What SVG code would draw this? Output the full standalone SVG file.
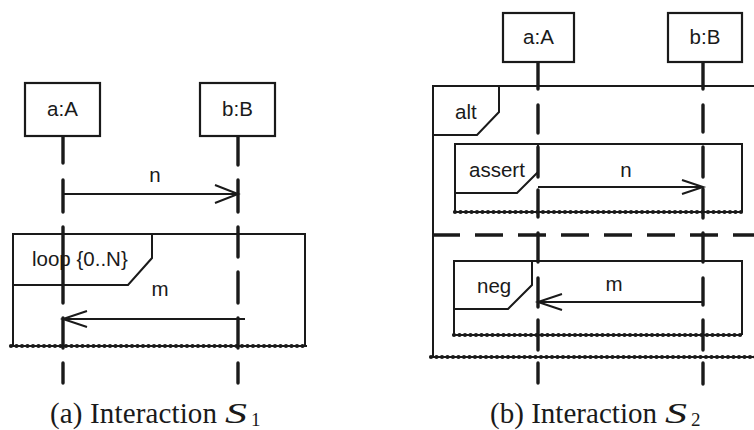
<svg xmlns="http://www.w3.org/2000/svg" width="754" height="430" viewBox="0 0 754 430">
<style>
.box{fill:#fff;stroke:#1a1a1a;stroke-width:2.2}
.frame{fill:none;stroke:#1a1a1a;stroke-width:2}
.life{stroke:#1a1a1a;stroke-width:3.4;stroke-linecap:round;fill:none}
.msg{stroke:#1a1a1a;stroke-width:1.8;fill:none}
.head{stroke:#1a1a1a;stroke-width:2;fill:none;stroke-linejoin:miter}
.dotA{stroke:#1a1a1a;stroke-width:2;fill:none}
.dotB{stroke:#1a1a1a;stroke-width:4.2;stroke-dasharray:0 5.5;stroke-linecap:round;fill:none}
.sep{stroke:#1a1a1a;stroke-width:3.4;stroke-dasharray:28 15;fill:none}
.lbl{font-family:"Liberation Sans",Arial,sans-serif;font-size:20.5px;fill:#1a1a1a}
.cap{font-family:"Liberation Serif","Times New Roman",serif;font-size:29px;fill:#1a1a1a}
.capS{font-family:"Liberation Serif","Times New Roman",serif;font-size:30px;font-style:italic;fill:#1a1a1a}
.capSub{font-family:"Liberation Serif","Times New Roman",serif;font-size:19px;fill:#1a1a1a}
</style>
<rect width="754" height="430" fill="#fff"/>

<!-- ===== Diagram (a) ===== -->
<g id="a-loop">
  <rect class="frame" x="13" y="234" width="292" height="112"/>
  <path class="frame" d="M13,285 H128 L152,258 V234"/>
  <text class="lbl" x="32" y="266">loop {0..N}</text>
  <line class="dotA" x1="11" y1="346" x2="307" y2="346"/>
  <line class="dotB" x1="11" y1="346" x2="307" y2="346"/>
</g>
<g id="a-lifeline-A">
  <rect class="box" x="25" y="83" width="75" height="53"/>
  <text class="lbl" x="62.5" y="116" text-anchor="middle">a:A</text>
</g>
<g id="a-lifeline-B">
  <rect class="box" x="200" y="83" width="75" height="53"/>
  <text class="lbl" x="237.5" y="116" text-anchor="middle">b:B</text>
</g>
<g id="a-connectors">
  <path class="life" d="M63,137 V163 M63,180 V212 M63,227 V303 M63,318 V348 M63,363 V383"/>
  <path class="life" d="M238,137 V165 M238,180 V212 M238,227 V257 M238,272 V303 M238,318 V348 M238,363 V383"/>
  <line class="msg" x1="63" y1="194" x2="237" y2="194"/>
  <path class="head" d="M215,185 L238,194 L215,203"/>
  <text class="lbl" x="155" y="182" text-anchor="middle">n</text>
  <line class="msg" x1="245" y1="319" x2="64" y2="319"/>
  <path class="head" d="M87,311 L63,319 L87,327"/>
  <text class="lbl" x="160" y="296" text-anchor="middle">m</text>
</g>
<g id="caption-a">
  <text class="cap" x="50" y="423" textLength="167" lengthAdjust="spacing">(a) Interaction</text>
  <text class="capS" x="225" y="423" textLength="22" lengthAdjust="spacingAndGlyphs">S</text>
  <text class="capSub" x="251" y="426">1</text>
</g>

<!-- ===== Diagram (b) ===== -->
<g id="b-alt">
  <path class="frame" d="M756,86 H433 V357"/>
  <path class="frame" d="M433,135 H477 L499,112 V86"/>
  <text class="lbl" x="455" y="119">alt</text>
  <line class="sep" x1="432" y1="235" x2="756" y2="235"/>
  <line class="dotA" x1="431" y1="357" x2="756" y2="357"/>
  <line class="dotB" x1="431" y1="357" x2="756" y2="357"/>
</g>
<g id="b-assert">
  <path class="frame" d="M455,212 V144 H742 V212"/>
  <path class="frame" d="M455,193 H517 L538,172 V144"/>
  <text class="lbl" x="469" y="177">assert</text>
  <line class="dotA" x1="455" y1="212" x2="742" y2="212"/>
  <line class="dotB" x1="455" y1="212" x2="742" y2="212"/>
</g>
<g id="b-neg">
  <path class="frame" d="M454,335 V261 H742 V335"/>
  <path class="frame" d="M454,309 H508 L532,285 V261"/>
  <text class="lbl" x="477" y="293">neg</text>
  <line class="dotA" x1="454" y1="335" x2="742" y2="335"/>
  <line class="dotB" x1="454" y1="335" x2="742" y2="335"/>
</g>
<g id="b-lifeline-A">
  <rect class="box" x="503" y="13" width="71" height="49"/>
  <text class="lbl" x="538.5" y="44" text-anchor="middle">a:A</text>
</g>
<g id="b-lifeline-B">
  <rect class="box" x="668" y="13" width="74" height="49"/>
  <text class="lbl" x="705" y="44" text-anchor="middle">b:B</text>
</g>
<g id="b-connectors">
  <path class="life" d="M538,63 V89 M538,105 V133 M538,147 V177 M538,190 V217 M538,233 V262 M538,278 V307 M538,320 V350 M538,363 V383"/>
  <path class="life" d="M703,63 V89 M703,105 V132 M703,147 V177 M703,189 V218 M703,233 V262 M703,278 V305 M703,320 V350 M703,363 V384"/>
  <line class="msg" x1="538" y1="187" x2="702" y2="187"/>
  <path class="head" d="M682,180 L703,187 L682,194"/>
  <text class="lbl" x="626" y="177" text-anchor="middle">n</text>
  <line class="msg" x1="703" y1="302" x2="539" y2="302"/>
  <path class="head" d="M562,294 L538,302 L562,310"/>
  <text class="lbl" x="614" y="291" text-anchor="middle">m</text>
</g>
<g id="caption-b">
  <text class="cap" x="490" y="423" textLength="167" lengthAdjust="spacing">(b) Interaction</text>
  <text class="capS" x="665" y="423" textLength="22" lengthAdjust="spacingAndGlyphs">S</text>
  <text class="capSub" x="691" y="426">2</text>
</g>
</svg>
